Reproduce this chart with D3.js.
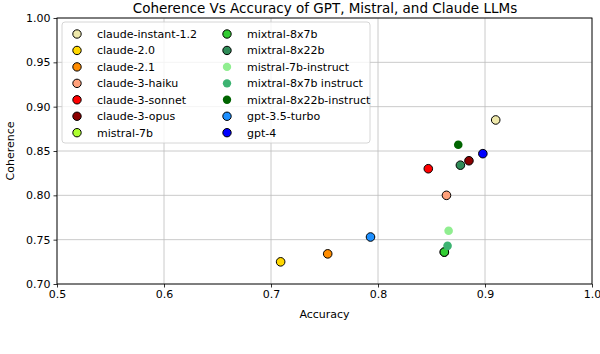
<!DOCTYPE html>
<html>
<head>
<meta charset="utf-8">
<script src="https://cdn.jsdelivr.net/npm/d3@7"></script>
<style>
  body { margin: 0; background: #fff; }
  text { font-family: "DejaVu Sans", sans-serif; fill: #000; }
</style>
</head>
<body>
<div id="chart"></div>
<script>
const models = ["claude-instant-1.2", "claude-2.0", "claude-2.1", "claude-3-haiku", "claude-3-sonnet", "claude-3-opus",
  "mistral-7b", "mixtral-8x7b", "mixtral-8x22b", "mistral-7b-instruct", "mixtral-8x7b instruct", "mixtral-8x22b-instruct",
  "gpt-3.5-turbo", "gpt-4"];
const accuracy = [0.910, 0.709, 0.753, 0.864, 0.847, 0.885, 0.862, 0.862, 0.877, 0.866, 0.865, 0.875, 0.793, 0.898];
const coherence = [0.885, 0.725, 0.734, 0.800, 0.830, 0.839, 0.736, 0.736, 0.834, 0.760, 0.743, 0.857, 0.753, 0.847];
const colors = ["#eee8aa", "#ffd700", "#ff8c00", "#ffa07a", "#ff0000", "#8b0000", "#adff2f", "#32cd32", "#2e8b57",
  "#90ee90", "#3cb371", "#006400", "#1e90ff", "#0000ff"];
const outlined = [true, true, true, true, true, true, true, true, true, false, false, false, true, true];
const xTicks = [0.5, 0.6, 0.7, 0.8, 0.9, 1.0];
const yTicks = [0.70, 0.75, 0.80, 0.85, 0.90, 0.95, 1.00];

const data = models.map((m, i) => ({ name: m, acc: accuracy[i], coh: coherence[i], color: colors[i], edge: outlined[i] }));

const svg = d3.select("#chart").append("svg")
  .attr("width", 600)
  .attr("height", 354);

const x = d3.scaleLinear().domain([0.5, 1.0]).range([57, 592]);
const y = d3.scaleLinear().domain([0.70, 1.00]).range([284, 18]);

// grid
svg.append("g").selectAll("line").data(xTicks).enter().append("line")
  .attr("x1", d => x(d)).attr("x2", d => x(d)).attr("y1", 18).attr("y2", 284)
  .attr("stroke", "#bdbdbd").attr("stroke-width", 0.8);
svg.append("g").selectAll("line").data(yTicks).enter().append("line")
  .attr("x1", 57).attr("x2", 592).attr("y1", d => y(d)).attr("y2", d => y(d))
  .attr("stroke", "#bdbdbd").attr("stroke-width", 0.8);

// points
svg.append("g").selectAll("circle").data(data).enter().append("circle")
  .attr("cx", d => x(d.acc))
  .attr("cy", d => y(d.coh))
  .attr("r", 4.3)
  .attr("fill", d => d.color)
  .attr("stroke", d => d.edge ? "#000" : "none")
  .attr("stroke-width", 1);

// axes
svg.append("g").attr("transform", "translate(0,284)")
  .call(d3.axisBottom(x).tickValues(xTicks).tickFormat(d3.format(".1f")).tickSizeOuter(0).tickSize(3.5).tickPadding(3));
svg.append("g").attr("transform", "translate(57,0)")
  .call(d3.axisLeft(y).tickValues(yTicks).tickFormat(d3.format(".2f")).tickSizeOuter(0).tickSize(3.5).tickPadding(3));
svg.selectAll(".tick text").style("font-family", "DejaVu Sans").style("font-size", "11px").attr("fill", "#000");
svg.selectAll(".tick line").attr("stroke", "#000").attr("stroke-width", 0.8);
svg.selectAll(".domain").remove();

// frame
svg.append("rect")
  .attr("x", 57).attr("y", 18).attr("width", 535).attr("height", 266)
  .attr("fill", "none").attr("stroke", "#000").attr("stroke-width", 0.9);

// labels
svg.append("text")
  .attr("x", 325).attr("y", 13)
  .attr("text-anchor", "middle")
  .style("font-size", "13.5px")
  .text("Coherence Vs Accuracy of GPT, Mistral, and Claude LLMs");

svg.append("text")
  .attr("x", 324.5).attr("y", 318)
  .attr("text-anchor", "middle")
  .style("font-size", "11px")
  .text("Accuracy");

svg.append("text")
  .attr("text-anchor", "middle")
  .attr("transform", "translate(14,151)rotate(-90)")
  .style("font-size", "11px")
  .text("Coherence");

// legend
const legend = svg.append("g");
legend.append("rect")
  .attr("x", 62).attr("y", 22).attr("width", 308).attr("height", 121)
  .attr("rx", 3)
  .attr("fill", "#fff").attr("fill-opacity", 0.8)
  .attr("stroke", "#cccccc").attr("stroke-width", 0.8);

const items = legend.selectAll("g.item").data(data).enter().append("g")
  .attr("class", "item")
  .attr("transform", (d, i) => `translate(${i < 7 ? 77 : 227},${34 + (i % 7) * 16.45})`);
items.append("circle")
  .attr("r", 4.2)
  .attr("fill", d => d.color)
  .attr("stroke", d => d.edge ? "#000" : "none")
  .attr("stroke-width", 1);
items.append("text")
  .attr("x", 20).attr("y", 4)
  .style("font-size", "11px")
  .text(d => d.name);
</script>
</body>
</html>
